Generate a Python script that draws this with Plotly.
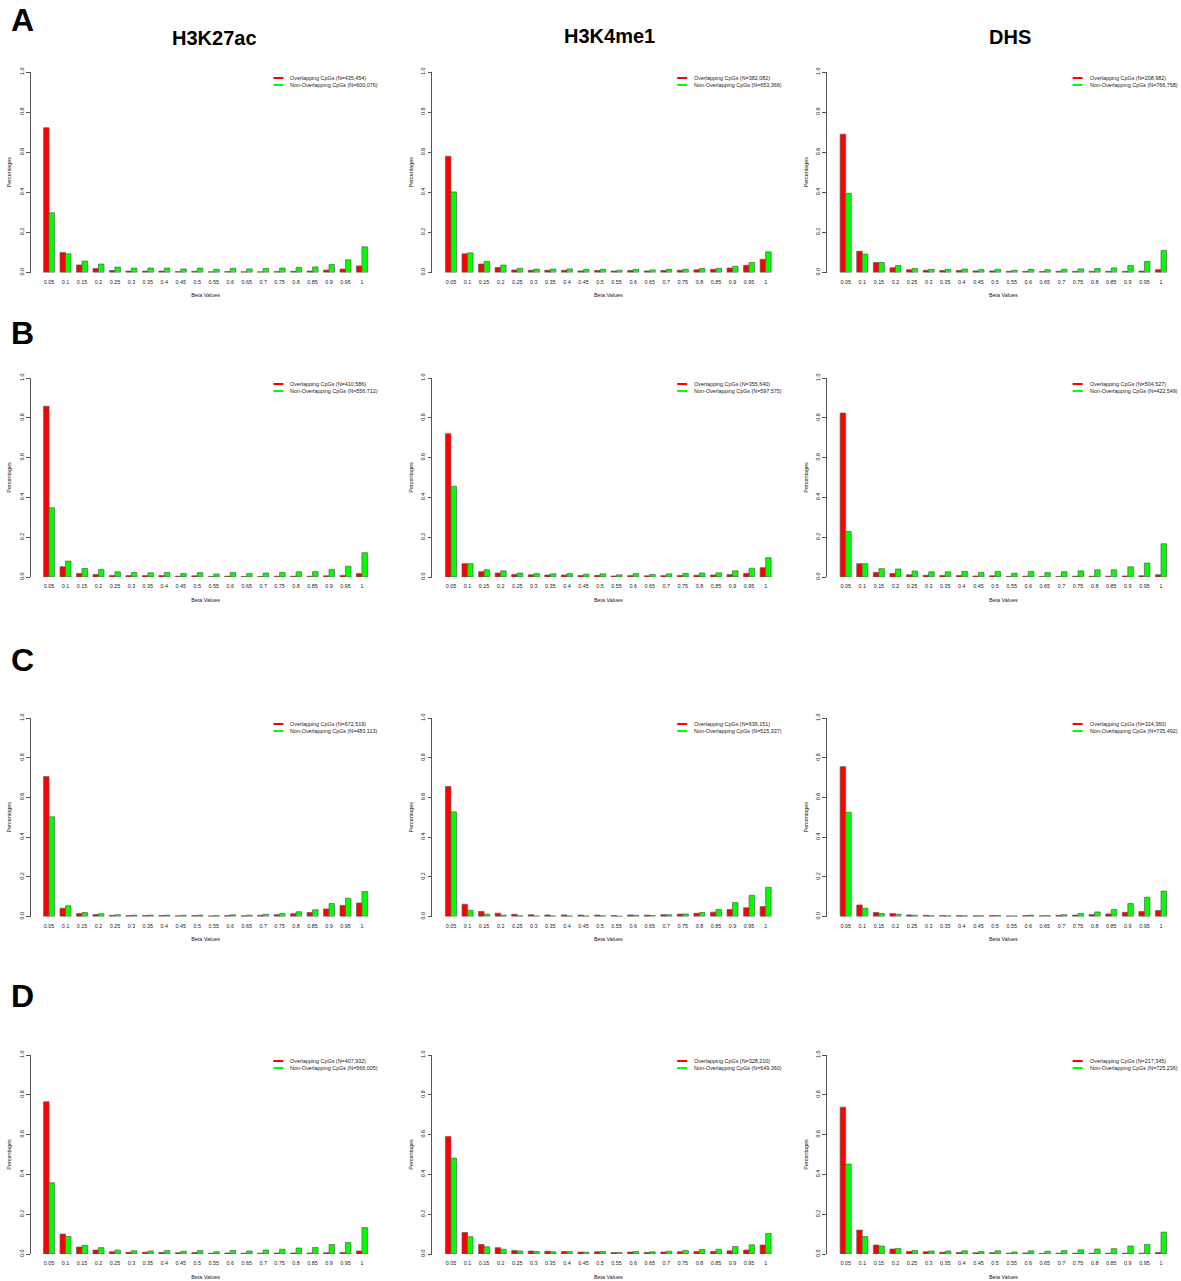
import plotly.graph_objects as go
from plotly.subplots import make_subplots

# ---------------- data ----------------
beta_bins = ["0.05", "0.1", "0.15", "0.2", "0.25", "0.3", "0.35", "0.4", "0.45", "0.5",
             "0.55", "0.6", "0.65", "0.7", "0.75", "0.8", "0.85", "0.9", "0.95", "1"]
column_titles = ["H3K27ac", "H3K4me1", "DHS"]
row_letters = ["A", "B", "C", "D"]

# Row A
A_H3K27ac_ovl = [0.722, 0.100, 0.038, 0.020, 0.010, 0.007, 0.007, 0.007, 0.005, 0.006, 0.004, 0.005, 0.004, 0.004, 0.005, 0.006, 0.007, 0.012, 0.017, 0.033]
A_H3K27ac_non = [0.298, 0.093, 0.057, 0.042, 0.027, 0.022, 0.022, 0.022, 0.018, 0.022, 0.016, 0.021, 0.018, 0.020, 0.022, 0.025, 0.028, 0.040, 0.063, 0.128]
A_H3K4me1_ovl = [0.580, 0.093, 0.042, 0.025, 0.013, 0.011, 0.011, 0.011, 0.008, 0.010, 0.007, 0.010, 0.008, 0.010, 0.011, 0.014, 0.016, 0.022, 0.036, 0.066]
A_H3K4me1_non = [0.402, 0.098, 0.055, 0.037, 0.021, 0.017, 0.017, 0.018, 0.015, 0.016, 0.011, 0.016, 0.013, 0.016, 0.016, 0.020, 0.021, 0.031, 0.050, 0.103]
A_DHS_ovl = [0.690, 0.106, 0.050, 0.024, 0.014, 0.011, 0.010, 0.010, 0.008, 0.008, 0.006, 0.006, 0.005, 0.006, 0.006, 0.006, 0.006, 0.006, 0.007, 0.014]
A_DHS_non = [0.395, 0.092, 0.050, 0.035, 0.020, 0.016, 0.016, 0.017, 0.014, 0.016, 0.011, 0.016, 0.014, 0.016, 0.018, 0.020, 0.023, 0.035, 0.055, 0.110]
A_N_ovl = ["435,454", "382,082", "208,982"]
A_N_non = ["600,076", "653,366", "766,758"]

# Row B
B_H3K27ac_ovl = [0.858, 0.052, 0.017, 0.013, 0.008, 0.007, 0.007, 0.007, 0.004, 0.006, 0.003, 0.004, 0.003, 0.003, 0.004, 0.004, 0.004, 0.006, 0.008, 0.017]
B_H3K27ac_non = [0.348, 0.080, 0.043, 0.038, 0.026, 0.022, 0.021, 0.023, 0.018, 0.022, 0.015, 0.022, 0.017, 0.020, 0.023, 0.026, 0.027, 0.038, 0.054, 0.122]
B_H3K4me1_ovl = [0.720, 0.067, 0.027, 0.020, 0.013, 0.011, 0.010, 0.010, 0.008, 0.008, 0.005, 0.007, 0.006, 0.007, 0.008, 0.009, 0.010, 0.012, 0.018, 0.047]
B_H3K4me1_non = [0.456, 0.067, 0.036, 0.031, 0.020, 0.017, 0.016, 0.017, 0.014, 0.016, 0.011, 0.017, 0.013, 0.016, 0.018, 0.020, 0.021, 0.031, 0.044, 0.097]
B_DHS_ovl = [0.824, 0.067, 0.023, 0.018, 0.011, 0.009, 0.008, 0.007, 0.005, 0.006, 0.003, 0.004, 0.003, 0.003, 0.004, 0.004, 0.004, 0.005, 0.006, 0.011]
B_DHS_non = [0.229, 0.067, 0.042, 0.040, 0.030, 0.026, 0.026, 0.028, 0.023, 0.028, 0.019, 0.028, 0.022, 0.027, 0.031, 0.036, 0.036, 0.051, 0.070, 0.167]
B_N_ovl = ["410,586", "355,640", "504,527"]
B_N_non = ["556,712", "597,575", "422,549"]

# Row C
C_H3K27ac_ovl = [0.705, 0.042, 0.015, 0.010, 0.006, 0.005, 0.005, 0.005, 0.004, 0.005, 0.003, 0.005, 0.004, 0.006, 0.009, 0.014, 0.020, 0.038, 0.055, 0.068]
C_H3K27ac_non = [0.502, 0.054, 0.020, 0.014, 0.009, 0.007, 0.007, 0.007, 0.006, 0.007, 0.005, 0.009, 0.007, 0.011, 0.015, 0.024, 0.034, 0.065, 0.092, 0.126]
C_H3K4me1_ovl = [0.655, 0.062, 0.025, 0.017, 0.011, 0.009, 0.008, 0.008, 0.007, 0.007, 0.005, 0.008, 0.007, 0.009, 0.012, 0.016, 0.022, 0.035, 0.044, 0.050]
C_H3K4me1_non = [0.527, 0.032, 0.012, 0.007, 0.004, 0.003, 0.003, 0.003, 0.003, 0.004, 0.002, 0.006, 0.005, 0.009, 0.013, 0.020, 0.035, 0.070, 0.107, 0.147]
C_DHS_ovl = [0.755, 0.058, 0.020, 0.015, 0.008, 0.006, 0.005, 0.005, 0.004, 0.005, 0.003, 0.005, 0.004, 0.006, 0.007, 0.010, 0.013, 0.021, 0.025, 0.030]
C_DHS_non = [0.525, 0.042, 0.015, 0.011, 0.006, 0.004, 0.004, 0.004, 0.004, 0.005, 0.003, 0.007, 0.005, 0.009, 0.015, 0.023, 0.035, 0.065, 0.097, 0.128]
C_N_ovl = ["672,519", "636,151", "324,360"]
C_N_non = ["483,113", "515,337", "735,492"]

# Row D
D_H3K27ac_ovl = [0.765, 0.100, 0.035, 0.020, 0.011, 0.009, 0.009, 0.008, 0.006, 0.007, 0.004, 0.005, 0.004, 0.004, 0.005, 0.005, 0.005, 0.006, 0.008, 0.015]
D_H3K27ac_non = [0.358, 0.088, 0.043, 0.032, 0.020, 0.016, 0.015, 0.017, 0.014, 0.017, 0.011, 0.018, 0.015, 0.020, 0.024, 0.030, 0.033, 0.048, 0.058, 0.133]
D_H3K4me1_ovl = [0.590, 0.108, 0.048, 0.032, 0.018, 0.015, 0.014, 0.013, 0.010, 0.011, 0.007, 0.010, 0.008, 0.010, 0.011, 0.012, 0.012, 0.016, 0.020, 0.045]
D_H3K4me1_non = [0.482, 0.087, 0.036, 0.024, 0.015, 0.012, 0.011, 0.012, 0.009, 0.012, 0.008, 0.013, 0.011, 0.014, 0.018, 0.023, 0.024, 0.038, 0.046, 0.103]
D_DHS_ovl = [0.738, 0.120, 0.045, 0.025, 0.013, 0.011, 0.009, 0.008, 0.006, 0.006, 0.004, 0.005, 0.003, 0.004, 0.004, 0.004, 0.004, 0.004, 0.004, 0.008]
D_DHS_non = [0.452, 0.088, 0.040, 0.028, 0.018, 0.015, 0.015, 0.016, 0.012, 0.016, 0.010, 0.016, 0.014, 0.017, 0.021, 0.025, 0.027, 0.040, 0.048, 0.110]
D_N_ovl = ["407,932", "328,210", "217,345"]
D_N_non = ["566,005", "649,360", "725,236"]

y_ticks = [0.0, 0.2, 0.4, 0.6, 0.8, 1.0]

# ---------------- layout helpers ----------------
W, H = 1181, 1281
RED = "#ff0000"
GREEN = "#00ff00"
FONT = "Liberation Sans, Arial, sans-serif"
SMALL = 5.4

panels = [
    [(A_H3K27ac_ovl, A_H3K27ac_non), (A_H3K4me1_ovl, A_H3K4me1_non), (A_DHS_ovl, A_DHS_non)],
    [(B_H3K27ac_ovl, B_H3K27ac_non), (B_H3K4me1_ovl, B_H3K4me1_non), (B_DHS_ovl, B_DHS_non)],
    [(C_H3K27ac_ovl, C_H3K27ac_non), (C_H3K4me1_ovl, C_H3K4me1_non), (C_DHS_ovl, C_DHS_non)],
    [(D_H3K27ac_ovl, D_H3K27ac_non), (D_H3K4me1_ovl, D_H3K4me1_non), (D_DHS_ovl, D_DHS_non)],
]
n_ovl = [A_N_ovl, B_N_ovl, C_N_ovl, D_N_ovl]
n_non = [A_N_non, B_N_non, C_N_non, D_N_non]

col_px = [(30.6, 380.4), (432.4, 784.2), (827.1, 1179.6)]
row_px = [(72, 272.5), (378, 577), (718, 916.5), (1055, 1254)]


def px(x):
    return x / W


def py(y):
    return 1 - y / H


fig = make_subplots(rows=4, cols=3)

shapes = []
annotations = []

for r in range(4):
    for c in range(3):
        ov, nv = panels[r][c]
        fig.add_trace(go.Bar(x=beta_bins, y=ov, name="Overlapping CpGs",
                             marker=dict(color=RED, line=dict(color="#5c5c5c", width=0.7)),
                             showlegend=False), row=r + 1, col=c + 1)
        fig.add_trace(go.Bar(x=beta_bins, y=nv, name="Non-Overlapping CpGs",
                             marker=dict(color=GREEN, line=dict(color="#5c5c5c", width=0.7)),
                             showlegend=False), row=r + 1, col=c + 1)
        idx = r * 3 + c + 1
        sfx = "" if idx == 1 else str(idx)
        x0, x1 = col_px[c]
        y1p, y0p = row_px[r]
        fig.layout["xaxis" + sfx].update(
            domain=[px(x0), px(x1)], type="category", range=[-1.12, 20.12],
            showline=False, showgrid=False, zeroline=False,
            ticks="outside", ticklen=4, tickcolor="rgba(0,0,0,0)",
            tickfont=dict(size=SMALL, color="#222", family=FONT),
            tickangle=0, automargin=False,
            title=dict(text="Beta Values", font=dict(size=SMALL, color="#222", family=FONT), standoff=9),
        )
        fig.layout["yaxis" + sfx].update(
            domain=[py(y0p), py(y1p)], range=[0, 1],
            showline=True, linecolor="#555", linewidth=0.8,
            showgrid=False, zeroline=False,
            ticks="outside", ticklen=4, tickcolor="#555", tickwidth=0.8,
            tickvals=y_ticks, tickformat=".1f", tickangle=-90,
            tickfont=dict(size=SMALL, color="#222", family=FONT), automargin=False,
            title=dict(text="Percentages", font=dict(size=SMALL, color="#222", family=FONT), standoff=6),
        )
        # legend (R style: line keys + text)
        lx0 = x1 - 107
        ly = y1p + 6
        for k, (colr, lab) in enumerate([(RED, f"Overlapping CpGs (N={n_ovl[r][c]})"),
                                         (GREEN, f"Non-Overlapping CpGs (N={n_non[r][c]})")]):
            yy = ly + 7 * k
            shapes.append(dict(type="line", xref="paper", yref="paper",
                               x0=px(lx0), x1=px(lx0 + 10), y0=py(yy), y1=py(yy),
                               line=dict(color=colr, width=2)))
            annotations.append(dict(xref="paper", yref="paper", x=px(lx0 + 15), y=py(yy),
                                    text=lab, showarrow=False, xanchor="left", yanchor="middle",
                                    font=dict(size=SMALL, color="#222", family=FONT)))

# column titles
for c, (t, cx, cy) in enumerate(zip(column_titles, [214, 609, 1010], [38, 36, 37])):
    annotations.append(dict(xref="paper", yref="paper", x=px(cx), y=py(cy), text=f"<b>{t}</b>",
                            showarrow=False, xanchor="center", yanchor="middle",
                            font=dict(size=20, color="#000", family=FONT)))
# row letters
for L, ly in zip(row_letters, [20, 333, 660, 996]):
    annotations.append(dict(xref="paper", yref="paper", x=px(22), y=py(ly), text=f"<b>{L}</b>",
                            showarrow=False, xanchor="center", yanchor="middle",
                            font=dict(size=32, color="#000", family=FONT)))

fig.update_layout(
    width=W, height=H, margin=dict(l=0, r=0, t=0, b=0),
    paper_bgcolor="white", plot_bgcolor="white",
    barmode="group", bargap=1 / 3, bargroupgap=0,
    shapes=shapes, annotations=annotations, showlegend=False,
)

fig.write_html("out.html",
               config={"displayModeBar": False},
               post_script="document.body.style.margin='0';document.body.style.padding='0';"
                           "document.documentElement.style.overflow='hidden';")
